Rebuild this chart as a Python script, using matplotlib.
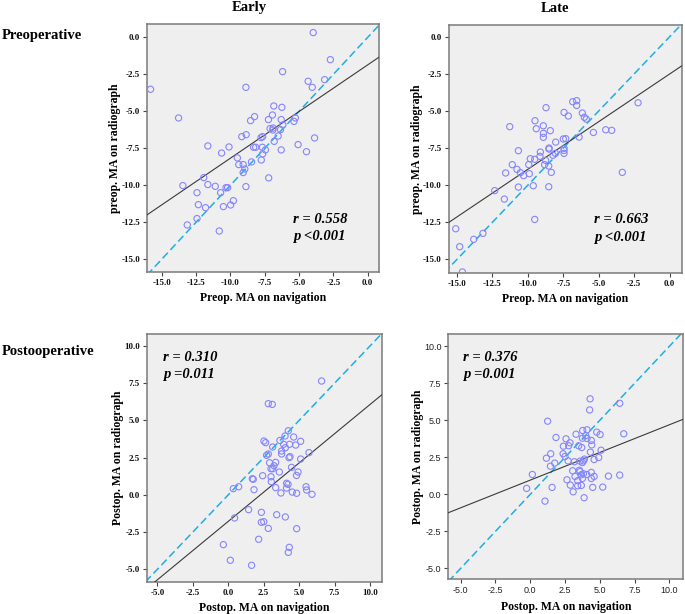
import matplotlib
matplotlib.use("Agg")
import matplotlib.pyplot as plt
import numpy as np

plt.rcParams['font.family'] = ['Liberation Serif', 'DejaVu Serif']

# values, one x/y list pair per panel
early_pre_nav = [-3.97, -2.72, -15.81, -6.20, -4.34, -3.14, -4.04, -8.87, -13.77, -6.84,
                 -6.25, -6.94, -8.24, -8.53, -7.23, -6.30, -5.27, -5.37, -6.18, -7.11,
                 -6.89, -6.35, -6.91, -8.85, -9.17, -7.65, -7.77, -6.52, -3.87, -11.64,
                 -10.10, -10.64, -8.31, -8.16, -7.67, -6.81, -7.45, -6.30, -5.07, -4.46,
                 -7.65, -9.49, -9.39, -9.07, -8.46, -7.75, -8.95, -9.07, -11.94, -7.21,
                 -13.46, -11.64, -11.10, -10.32, -10.20, -8.87, -12.43, -10.71, -12.33, -11.81,
                 -10.51, -9.98, -9.78, -12.43, -13.14, -10.81]
early_pre_rad = [0.32, -1.51, -3.51, -2.32, -2.97, -2.86, -3.38, -3.38, -5.45, -4.64,
                 -4.73, -5.25, -5.36, -5.63, -5.56, -5.56, -5.45, -5.68, -5.92, -6.17,
                 -6.13, -6.24, -6.26, -6.58, -6.71, -6.71, -6.78, -6.67, -6.80, -7.34,
                 -7.41, -7.82, -7.43, -7.43, -7.43, -7.03, -7.61, -7.61, -7.25, -7.73,
                 -7.88, -8.15, -8.60, -8.60, -8.42, -8.29, -8.90, -9.14, -9.48, -9.50,
                 -10.02, -9.95, -10.07, -10.16, -10.16, -10.09, -10.50, -10.50, -11.31, -11.51,
                 -11.44, -11.33, -11.04, -12.25, -12.68, -13.09]

late_pre_nav = [-2.23, -6.84, -6.56, -6.56, -8.72, -6.16, -7.45, -7.15, -6.02, -5.88,
                -9.50, -11.28, -9.41, -8.91, -8.42, -4.51, -4.09, -5.38, -8.91, -8.91,
                -6.39, -7.50, -7.33, -8.04, -8.51, -8.51, -7.45, -7.45, -7.45, -10.67,
                -9.12, -8.06, -8.23, -9.83, -9.52, -9.15, -8.75, -11.10, -9.94, -8.82,
                -8.53, -10.77, -10.53, -10.30, -11.57, -9.90, -8.35, -3.34, -9.62, -10.67,
                -8.53, -12.34, -11.66, -9.52, -15.09, -13.17, -13.82, -14.81, -14.62]
late_pre_rad = [-4.45, -4.38, -4.31, -4.63, -4.78, -5.14, -5.10, -5.34, -5.43, -5.55,
                -5.66, -6.06, -6.20, -6.00, -6.33, -6.27, -6.31, -6.45, -6.51, -6.78,
                -6.76, -6.89, -6.87, -7.10, -7.50, -7.57, -7.52, -7.66, -7.86, -7.68,
                -7.77, -7.86, -7.99, -8.22, -8.26, -8.06, -8.33, -8.62, -8.62, -8.62,
                -8.71, -8.94, -9.16, -9.36, -9.18, -9.23, -9.14, -9.14, -10.04, -10.13,
                -10.11, -10.37, -10.94, -12.31, -12.94, -13.25, -13.65, -14.15, -15.85]

early_post_nav = [6.59, 2.83, 3.11, 4.24, 4.01, 4.62, 3.65, 2.52, 2.64, 5.11,
                  3.91, 4.33, 4.76, 3.14, 4.03, 3.77, 3.77, 5.70, 2.83, 2.71,
                  4.29, 4.36, 5.11, 3.35, 2.92, 3.23, 3.02, 3.14, 4.47, 3.61,
                  4.93, 4.82, 2.43, 3.02, 1.70, 1.77, 3.04, 4.12, 4.22, 0.74,
                  0.36, 5.49, 5.53, 4.12, 3.35, 1.82, 3.72, 4.52, 4.83, 5.91,
                  1.44, 2.34, 0.45, 3.42, 4.03, 2.34, 2.51, 2.83, 4.83, 2.15,
                  -0.34, 4.31, 4.24, 0.15, 1.65]
early_post_rad = [7.65, 6.13, 6.08, 4.31, 3.96, 3.89, 3.66, 3.62, 3.51, 3.60,
                  3.40, 3.40, 3.35, 3.22, 3.17, 2.95, 2.75, 2.84, 2.75, 2.66,
                  2.50, 2.57, 2.41, 2.19, 2.16, 1.96, 1.76, 1.76, 1.85, 1.54,
                  1.54, 1.31, 1.29, 1.22, 1.09, 1.05, 0.89, 0.78, 0.71, 0.55,
                  0.42, 0.55, 0.33, 0.46, 0.49, 0.35, 0.13, 0.19, 0.11, 0.04,
                  -0.99, -1.17, -1.55, -1.33, -1.48, -1.84, -1.80, -2.25, -2.27, -2.98,
                  -3.34, -3.52, -3.86, -4.39, -4.73]

late_post_nav = [4.30, 6.43, 4.27, 1.25, 3.77, 4.08, 3.29, 4.78, 5.02, 6.72,
                 3.99, 3.75, 1.85, 4.08, 2.57, 4.39, 2.86, 4.42, 2.38, 2.76,
                 3.48, 3.70, 5.09, 4.32, 2.36, 1.47, 2.50, 1.16, 4.92, 4.59,
                 2.72, 3.17, 3.58, 3.82, 3.89, 3.75, 1.76, 1.45, 3.53, 3.05,
                 3.58, 4.39, 0.15, 3.82, 4.06, 4.59, 5.62, 6.43, 3.22, 3.67,
                 4.39, 2.64, 3.41, 3.75, 2.88, 3.41, 3.67, 1.57, 4.49, 5.21,
                 -0.26, 3.08, 1.06, 3.87]
late_post_rad = [6.45, 6.15, 5.70, 4.94, 4.31, 4.36, 4.06, 4.20, 4.04, 4.09,
                 3.97, 3.79, 3.84, 3.77, 3.75, 3.64, 3.48, 3.34, 3.25, 3.28,
                 3.28, 3.16, 2.98, 2.85, 2.74, 2.74, 2.56, 2.44, 2.49, 2.35,
                 2.26, 2.20, 2.24, 2.26, 2.38, 2.15, 2.11, 1.90, 1.63, 1.59,
                 1.54, 1.48, 1.34, 1.39, 1.34, 1.21, 1.23, 1.30, 1.21, 1.32,
                 1.07, 0.98, 0.92, 1.07, 0.62, 0.58, 0.60, 0.47, 0.47, 0.49,
                 0.40, 0.17, -0.46, -0.23]

fit_slope = [0.631, 0.642, 0.785, 0.374]
fit_intercept = [-1.86, -2.51, -1.78, 0.96]
r_labels = ["r = 0.558", "r = 0.663", "r = 0.310", "r = 0.376"]
p_labels = ["p <0.001", "p <0.001", "p =0.011", "p =0.001"]
pre_ticks = [-15.0, -12.5, -10.0, -7.5, -5.0, -2.5, 0.0]
post_ticks = [-5.0, -2.5, 0.0, 2.5, 5.0, 7.5, 10.0]

W, H = 685, 614
fig = plt.figure(figsize=(W / 100, H / 100), dpi=100)


def px_axes(left, top, right, bottom):
    return fig.add_axes([left / W, 1 - bottom / H, (right - left) / W, (bottom - top) / H])


panels = [
    dict(box=(147, 24.3, 379, 272), x=early_pre_nav, y=early_pre_rad,
         xlim=(-16.07, 0.82), ylim=(-15.86, 0.88), ticks=pre_ticks,
         xlabel="Preop. MA on navigation", ylabel="preop. MA on radiograph",
         txt=(0.629, 0.213, 0.142), sans=False),
    dict(box=(448.5, 25, 682, 272.7), x=late_pre_nav, y=late_pre_rad,
         xlim=(-15.6, 0.87), ylim=(-15.9, 0.79), ticks=pre_ticks,
         xlabel="Preop. MA on navigation", ylabel="preop. MA on radiograph",
         txt=(0.623, 0.215, 0.144), sans=False),
    dict(box=(146.7, 334.3, 381.7, 581.7), x=early_post_nav, y=early_post_rad,
         xlim=(-5.75, 10.83), ylim=(-5.83, 10.79), ticks=post_ticks,
         xlabel="Postop. MA on navigation", ylabel="Postop. MA on radiograph",
         txt=(0.069, 0.905, 0.836), sans=False),
    dict(box=(448.3, 334.3, 683.3, 579.3), x=late_post_nav, y=late_post_rad,
         xlim=(-5.89, 11.0), ylim=(-5.74, 10.81), ticks=post_ticks,
         xlabel="Postop. MA on navigation", ylabel="Postop. MA on radiograph",
         txt=(0.064, 0.904, 0.834), sans=True),
]

for i, p in enumerate(panels):
    ax = px_axes(*p["box"])
    ax.set_facecolor("#efefef")
    for s in ax.spines.values():
        s.set_color("#7a7a7a")
        s.set_linewidth(1.1)

    # line of equality
    lo = min(p["xlim"][0], p["ylim"][0])
    hi = max(p["xlim"][1], p["ylim"][1])
    ax.plot([lo, hi], [lo, hi], color="#1eaee6", lw=1.1, dashes=(5, 2.5), zorder=2)

    # regression line
    xs = np.array(p["xlim"])
    ax.plot(xs, fit_slope[i] * xs + fit_intercept[i], color="#3a3a3a", lw=0.8, zorder=3)

    ax.scatter(p["x"], p["y"], s=20, facecolors="none", edgecolors="#8585ff",
               linewidths=0.8, zorder=4)

    ax.set_xlim(*p["xlim"])
    ax.set_ylim(*p["ylim"])
    ax.set_xticks(p["ticks"])
    ax.set_yticks(p["ticks"])
    lbl = [f"{t:.1f}" for t in p["ticks"]]
    if p["sans"]:
        tkw = dict(fontsize=6.5, family="Liberation Sans", color="#222222")
    else:
        tkw = dict(fontsize=6.5, fontweight="bold", color="#111111")
    ax.set_xticklabels(lbl, **tkw)
    ax.set_yticklabels(lbl, **tkw)
    ax.tick_params(direction="out", length=3, width=0.8, color="#444444", pad=2)

    ax.set_xlabel(p["xlabel"], fontsize=8.5, fontweight="bold", labelpad=4)
    ax.set_ylabel(p["ylabel"], fontsize=8.5, fontweight="bold", labelpad=0)

    tx, ty1, ty2 = p["txt"]
    ax.text(tx, ty1, r_labels[i], transform=ax.transAxes, fontsize=10.5,
            fontweight="bold", fontstyle="italic", va="center", ha="left")
    ax.text(tx, ty2, p_labels[i], transform=ax.transAxes, fontsize=10.5,
            fontweight="bold", fontstyle="italic", va="center", ha="left")

fig.text(249 / W, 1 - 8 / H, "Early", fontsize=10.5, fontweight="bold", ha="center", va="center")
fig.text(555 / W, 1 - 8 / H, "Late", fontsize=10.5, fontweight="bold", ha="center", va="center")
fig.text(2 / W, 1 - 35 / H, "Preoperative", fontsize=10.5, fontweight="bold", ha="left", va="center")
fig.text(2 / W, 1 - 352 / H, "Postooperative", fontsize=10.5, fontweight="bold", ha="left", va="center")

fig.savefig("out.png", dpi=100)
